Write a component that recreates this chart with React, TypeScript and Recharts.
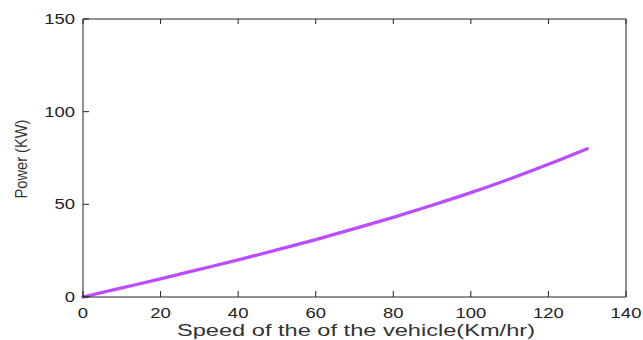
import { LineChart, Line, XAxis, YAxis } from 'recharts';

const speeds = [0, 10, 20, 30, 40, 50, 60, 70, 80, 90, 100, 110, 120, 130];
const powers = [0, 4.9, 9.8, 14.9, 20.0, 25.4, 31.0, 36.9, 43.0, 49.5, 56.3, 63.7, 71.6, 80.0];
const xTicks = [0, 20, 40, 60, 80, 100, 120, 140];
const yTicks = [0, 50, 100, 150];

const FONT = '"Liberation Sans", Arial, sans-serif';
const INK = '#222222';

const data = speeds.map((s, i) => ({ speed: s, power: powers[i] }));

//@ts-ignore
const XTick = ({ x, y, payload }) => (
  <g transform={`translate(${x},${y}) scale(1.32,1)`}>
    <text x={0} y={0} dy="0.72em" textAnchor="middle" fontSize={14} fontFamily={FONT} fill={INK}>
      {payload.value}
    </text>
  </g>
);

//@ts-ignore
const YTick = ({ x, y, payload }) => (
  <g transform={`translate(${x},${y}) scale(1.32,1)`}>
    <text x={0} y={0} dy="0.36em" textAnchor="end" fontSize={14} fontFamily={FONT} fill={INK}>
      {payload.value}
    </text>
  </g>
);

const NoTick = () => <g />;

const App = () => {
  return (
    <div style={{ position: 'absolute', left: 0, top: 0, width: 643, height: 340, background: '#fff' }}>
      <LineChart width={643} height={340} data={data} margin={{ top: 18, right: 16, left: 0, bottom: 0 }}>
        <XAxis
          xAxisId="bottom"
          dataKey="speed"
          type="number"
          domain={[0, 140]}
          ticks={xTicks}
          height={43}
          tickSize={-6}
          tickMargin={17}
          tick={XTick}
          axisLine={{ stroke: INK }}
          tickLine={{ stroke: INK }}
          label={{
            content: () => (
              <text x={356} y={336} textAnchor="middle" fontSize={16} fontFamily={FONT} fill="#333"
                textLength={358} lengthAdjust="spacingAndGlyphs">
                Speed of the of the vehicle(Km/hr)
              </text>
            ),
          }}
        />
        <XAxis
          xAxisId="top"
          orientation="top"
          dataKey="speed"
          type="number"
          domain={[0, 140]}
          ticks={xTicks}
          height={1}
          tickSize={-5}
          tick={NoTick}
          axisLine={{ stroke: INK }}
          tickLine={{ stroke: INK }}
        />
        <YAxis
          yAxisId="left"
          type="number"
          domain={[0, 150]}
          ticks={yTicks}
          width={83}
          tickSize={-6}
          tickMargin={14}
          tick={YTick}
          axisLine={{ stroke: INK }}
          tickLine={{ stroke: INK }}
          label={{
            content: () => (
              <text x={27} y={159} transform="rotate(-90 27 159)" textAnchor="middle" fontSize={16.5} fontFamily={FONT}
                fill="#333" textLength={79} lengthAdjust="spacingAndGlyphs">
                Power (KW)
              </text>
            ),
          }}
        />
        <YAxis
          yAxisId="right"
          orientation="right"
          type="number"
          domain={[0, 150]}
          ticks={yTicks}
          width={1}
          tickSize={-6}
          tick={NoTick}
          axisLine={{ stroke: INK }}
          tickLine={{ stroke: INK }}
        />
        <Line
          xAxisId="bottom"
          yAxisId="left"
          type="monotone"
          dataKey="power"
          stroke="#bb4cff"
          strokeWidth={3.3}
          strokeLinecap="round"
          dot={false}
          activeDot={false}
          isAnimationActive={false}
        />
      </LineChart>
    </div>
  );
};

export default App;
